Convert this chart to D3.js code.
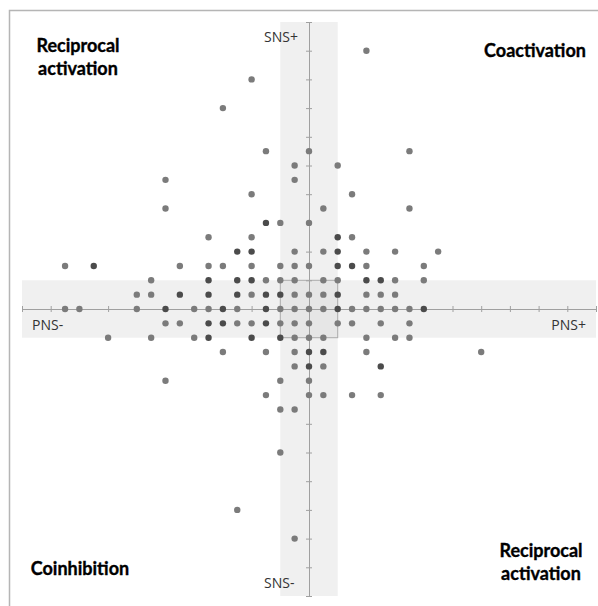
<!DOCTYPE html>
<html>
<head>
<meta charset="utf-8">
<script src="https://cdn.jsdelivr.net/npm/d3@7"></script>
<style>
  body { margin: 0; background: #fff; }
  .axisLbl { font-family: "Open Sans", sans-serif; font-size: 14px; fill: #333; }
  .quadLbl { font-family: Lato, "Open Sans", sans-serif; font-size: 18px; font-weight: bold; fill: #000; stroke: #000; stroke-width: 0.35px; }
</style>
</head>
<body>
<div id="chart"></div>
<script>
// PNS (x) and SNS (y) change scores, one entry per dot
var pns = [
  4, -4, -6,
  -3, 0, 7,
  -1, 2,
  -10, -1,
  -4, 3,
  -10, 1, 7,
  -3, -2, 0,
  -7, -4, 2, 3,
  -5, -4, -1, 1, 2, 4, 6, 9,
  -17, -15, -9, -7, -6, -4, -2, -1, 0, 2, 3, 4, 8,
  -11, -7, -5, -4, -3, -2, -1, 1, 2, 4, 5, 6, 8,
  -12, -11, -9, -7, -5, -4, -3, -2, -1, 0, 1, 2, 4, 5, 6,
  -17, -16, -12, -10, -8, -7, -6, -5, -3, -2, -1, 0, 1, 2, 3, 4, 5, 6, 7, 8,
  -10, -9, -7, -6, -5, -4, -3, -2, -1, 0, 2, 3, 5, 7,
  -14, -11, -8, -7, -4, -2, -1, 0, 1, 4, 6, 7,
  -6, -3, -1, 0, 1, 4, 12,
  -1, 0, 1, 5,
  -10, -2, 0,
  -3, 0, 1, 3, 5,
  -2, -1,
  -2, -5, -1
];
var sns = [
  18, 16, 14,
  11, 11, 11,
  10, 10,
  9, 9,
  8, 8,
  7, 7, 7,
  6, 6, 6,
  5, 5, 5, 5,
  4, 4, 4, 4, 4, 4, 4, 4,
  3, 3, 3, 3, 3, 3, 3, 3, 3, 3, 3, 3, 3,
  2, 2, 2, 2, 2, 2, 2, 2, 2, 2, 2, 2, 2,
  1, 1, 1, 1, 1, 1, 1, 1, 1, 1, 1, 1, 1, 1, 1,
  0, 0, 0, 0, 0, 0, 0, 0, 0, 0, 0, 0, 0, 0, 0, 0, 0, 0, 0, 0,
  -1, -1, -1, -1, -1, -1, -1, -1, -1, -1, -1, -1, -1, -1,
  -2, -2, -2, -2, -2, -2, -2, -2, -2, -2, -2, -2,
  -3, -3, -3, -3, -3, -3, -3,
  -4, -4, -4, -4,
  -5, -5, -5,
  -6, -6, -6, -6, -6,
  -7, -7,
  -10, -14, -16
];
// overlapping participants (2 = darker dot)
var count = [
  1, 1, 1,
  1, 1, 1,
  1, 1,
  1, 1,
  1, 1,
  1, 1, 1,
  2, 1, 1,
  1, 1, 2, 1,
  2, 2, 1, 1, 2, 1, 1, 1,
  1, 2, 1, 1, 1, 1, 1, 1, 1, 2, 2, 1, 1,
  1, 2, 2, 2, 1, 1, 1, 1, 1, 2, 2, 1, 1,
  1, 1, 2, 2, 2, 1, 2, 2, 1, 1, 1, 2, 1, 1, 1,
  1, 1, 1, 2, 1, 1, 2, 1, 2, 1, 1, 1, 1, 2, 1, 1, 1, 1, 1, 2,
  1, 1, 2, 2, 1, 1, 2, 1, 1, 1, 1, 1, 1, 1,
  1, 1, 1, 2, 2, 2, 1, 1, 1, 1, 1, 1,
  1, 1, 1, 2, 2, 1, 1,
  1, 2, 1, 2,
  1, 1, 1,
  1, 1, 1, 1, 1,
  1, 1,
  1, 1, 1
];
var axisTicks = d3.range(-20, 21, 2);
var quadrants = [
  { lines: ["Reciprocal", "activation"], x: 78, y: 52 },
  { lines: ["Coactivation"], x: 535, y: 57 },
  { lines: ["Coinhibition"], x: 80, y: 575 },
  { lines: ["Reciprocal", "activation"], x: 541, y: 557 }
];

var width = 598, height = 606;
var svg = d3.select("#chart").append("svg")
  .attr("width", width)
  .attr("height", height);

var x = d3.scaleLinear().domain([-20, 20]).range([22, 596]);
var y = d3.scaleLinear().domain([-20, 20]).range([596, 22]);

// outer frame (only top and left edges show)
svg.append("path")
  .attr("d", "M9.5," + height + "V10.5H" + width)
  .attr("fill", "none")
  .attr("stroke", "#b5b5b5")
  .attr("stroke-width", 1.5);

// neutral bands, +-2 on each axis
svg.append("rect")
  .attr("x", x(-2)).attr("y", y(20))
  .attr("width", x(2) - x(-2)).attr("height", y(-20) - y(20))
  .attr("fill", "#f0f0f0");
svg.append("rect")
  .attr("x", x(-20)).attr("y", y(2))
  .attr("width", x(20) - x(-20)).attr("height", y(-2) - y(2))
  .attr("fill", "#f0f0f0");
svg.append("rect")
  .attr("x", x(-2)).attr("y", y(2))
  .attr("width", x(2) - x(-2)).attr("height", y(-2) - y(2))
  .attr("fill", "#e6e6e6")
  .attr("stroke", "#ababab")
  .attr("stroke-width", 1);

// axes through the origin, ticks on both sides, no labels
function addAxis(axis, tr) {
  var g = svg.append("g").attr("transform", tr).call(axis);
  g.selectAll("path, line").attr("stroke", "#a0a0a0");
  g.selectAll("text").remove();
}
addAxis(d3.axisBottom(x).tickValues(axisTicks).tickSize(3).tickSizeOuter(0), "translate(0," + y(0) + ")");
addAxis(d3.axisTop(x).tickValues(axisTicks).tickSize(3).tickSizeOuter(0), "translate(0," + y(0) + ")");
addAxis(d3.axisLeft(y).tickValues(axisTicks).tickSize(3).tickSizeOuter(0), "translate(" + x(0) + ",0)");
addAxis(d3.axisRight(y).tickValues(axisTicks).tickSize(3).tickSizeOuter(0), "translate(" + x(0) + ",0)");

// dots
var color = d3.scaleOrdinal().domain([1, 2]).range(["#7b7b7b", "#4b4b4b"]);
svg.append("g").selectAll("circle")
  .data(d3.range(pns.length))
  .enter().append("circle")
  .attr("cx", function(i) { return x(pns[i]); })
  .attr("cy", function(i) { return y(sns[i]); })
  .attr("r", 3.2)
  .attr("fill", function(i) { return color(count[i]); });

// axis end labels
svg.append("text").attr("class", "axisLbl").attr("x", 264).attr("y", 42).text("SNS+");
svg.append("text").attr("class", "axisLbl").attr("x", 264).attr("y", 588).text("SNS-");
svg.append("text").attr("class", "axisLbl").attr("x", 32).attr("y", 330).text("PNS-");
svg.append("text").attr("class", "axisLbl").attr("x", 586).attr("y", 330)
  .attr("text-anchor", "end").text("PNS+");

// quadrant names
quadrants.forEach(function(q) {
  var t = svg.append("text").attr("class", "quadLbl")
    .attr("text-anchor", "middle")
    .attr("x", q.x).attr("y", q.y);
  q.lines.forEach(function(l, k) {
    t.append("tspan").attr("x", q.x).attr("dy", k === 0 ? 0 : 23).text(l);
  });
});
</script>
</body>
</html>
